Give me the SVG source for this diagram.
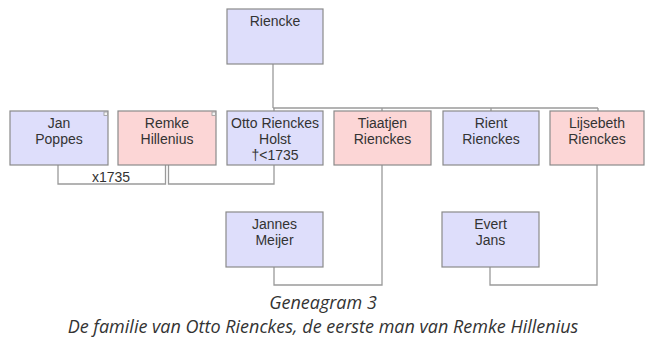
<svg xmlns="http://www.w3.org/2000/svg" width="646" height="354" viewBox="0 0 646 354">
<style>
.m{fill:#dedefb;stroke:#8a8a8a;stroke-width:1.2}
.f{fill:#fcd6d6;stroke:#8a8a8a;stroke-width:1.2}
.t{font-family:"Liberation Sans",Arial,sans-serif;font-size:14px;fill:#333;text-anchor:middle}
.c{fill:none;stroke:#9a9a9a;stroke-width:1.3}
.k{fill:#f4f4f4;stroke:#999;stroke-width:0.8}
.cap{font-family:"Open Sans","Noto Sans",sans-serif;font-style:italic;font-size:18px;fill:#333;text-anchor:middle}
</style>
<g id="connectors">
<path class="c" d="M273,64 V108 M273,108 H598 M382,108 V111 M491,108 V111 M598,108 V111"/>
<path class="c" d="M58,165 V184 H165.5 V165"/>
<path class="c" d="M168.5,165 V184 H274 V108"/>
<path class="c" d="M274,267 V285 H382 V165"/>
<path class="c" d="M490,267 V285 H597 V165"/>
</g>
<g id="riencke"><rect class="m" x="227" y="9" width="96" height="55"/><text class="t" x="275" y="26">Riencke</text></g>
<g id="jan"><rect class="m" x="10" y="111" width="98" height="54"/><rect class="k" x="104" y="112" width="3.5" height="3.5"/><text class="t" x="59" y="128">Jan</text><text class="t" x="59" y="144">Poppes</text></g>
<g id="remke"><rect class="f" x="118" y="111" width="98" height="54"/><rect class="k" x="212" y="112" width="3.5" height="3.5"/><text class="t" x="167" y="128">Remke</text><text class="t" x="167" y="144">Hillenius</text></g>
<g id="otto"><rect class="m" x="227" y="111" width="96" height="54"/><text class="t" x="275" y="128">Otto Rienckes</text><text class="t" x="275" y="144">Holst</text><text class="t" x="275" y="160">†&lt;1735</text></g>
<g id="tiaatjen"><rect class="f" x="334" y="111" width="97" height="54"/><text class="t" x="382.5" y="128">Tiaatjen</text><text class="t" x="382.5" y="144">Rienckes</text></g>
<g id="rient"><rect class="m" x="443" y="111" width="96" height="54"/><text class="t" x="491" y="128">Rient</text><text class="t" x="491" y="144">Rienckes</text></g>
<g id="lijsebeth"><rect class="f" x="550" y="111" width="94" height="54"/><text class="t" x="597" y="128">Lijsebeth</text><text class="t" x="597" y="144">Rienckes</text></g>
<g id="jannes"><rect class="m" x="226" y="212" width="97" height="55"/><text class="t" x="274.5" y="229">Jannes</text><text class="t" x="274.5" y="245">Meijer</text></g>
<g id="evert"><rect class="m" x="442" y="212" width="97" height="55"/><text class="t" x="490.5" y="229">Evert</text><text class="t" x="490.5" y="245">Jans</text></g>
<text class="t" x="111" y="182">x1735</text>
<text class="cap" x="323" y="309">Geneagram 3</text>
<text class="cap" x="323" y="333">De familie van Otto Rienckes, de eerste man van Remke Hillenius</text>
</svg>
